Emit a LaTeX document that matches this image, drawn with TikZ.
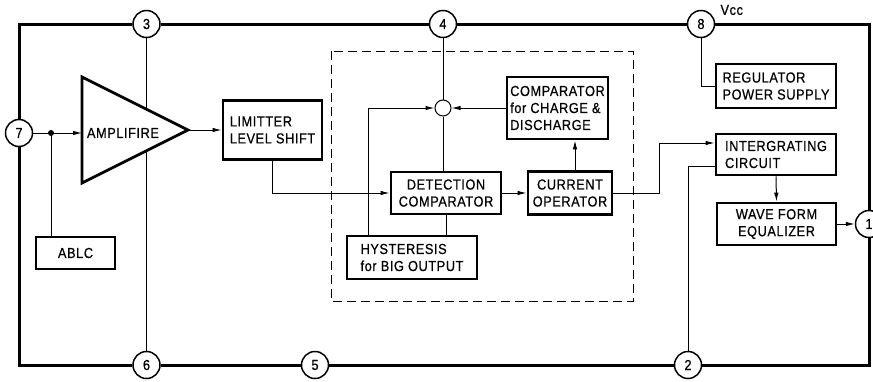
\documentclass[tikz,border=0pt]{standalone}
\usepackage{fontspec}
\setmainfont[LetterSpace=4, FakeStretch=0.88, FakeBold=0.6]{Liberation Sans}
\usepackage{tikz}
\usetikzlibrary{arrows.meta, positioning, calc}
\newcommand{\blockfont}{\fontsize{14.5}{17}\selectfont}

\begin{document}
\begin{tikzpicture}[x=1pt, y=-1pt, >={Latex[length=9pt,width=4.5pt]},
  box/.style={draw, line width=2.8pt, align=left, inner sep=0pt, font=\blockfont},
  pin/.style={draw, circle, line width=1.5pt, fill=white, minimum size=27pt, inner sep=0pt, font=\blockfont},
  wire/.style={line width=1pt},
  frame/.style={line width=3pt}]
  \useasboundingbox (0,0) rectangle (873,381);

  % pins
  \node[pin] (p7) at (19,133) {7};
  \node[pin] (p3) at (146.5,24) {3};
  \node[pin] (p4) at (443,24) {4};
  \node[pin] (p8) at (701,24) {8};
  \node[pin] (p1) at (869,224) {1};
  \node[pin] (p2) at (688,365) {2};
  \node[pin] (p5) at (315,365) {5};
  \node[pin] (p6) at (146.5,365) {6};
  \node[font=\blockfont, anchor=west] (vcc) at (717,10) {Vcc};

  % outer frame, pin to pin
  \draw[frame] (p7.north) |- (p3.west);
  \draw[frame] (p3.east) -- (p4.west);
  \draw[frame] (p4.east) -- (p8.west);
  \draw[frame] (p8.east) -| (p1.north);
  \draw[frame] (p1.south) |- (p2.east);
  \draw[frame] (p2.west) -- (p5.east);
  \draw[frame] (p5.west) -- (p6.east);
  \draw[frame] (p6.west) -| (p7.south);

  % amplifier
  \draw[wire] (p3.south) -- (p6.north);
  \filldraw[fill=white, line width=2.8pt] (82,77) -- (188,130) coordinate (ampO) -- (82,183) -- cycle;
  \node[font=\blockfont] (amplab) at (123,133) {AMPLIFIRE};
  \coordinate (ampIn) at (82,133);
  \fill (51,133) coordinate (dot) circle (3pt);

  % blocks
  \node[box, align=center, minimum width=79pt, minimum height=32pt] (ablc) at (75.5,253) {ABLC};
  \node[box, minimum width=99pt, minimum height=59pt] (lim) at (272.5,130) {LIMITTER\\LEVEL SHIFT};
  \node[box, align=center, minimum width=110pt, minimum height=42pt] (det) at (446,193) {DETECTION\\COMPARATOR};
  \node[box, align=center, minimum width=84pt, minimum height=43pt] (cur) at (570,193) {CURRENT\\OPERATOR};
  \node[box, minimum width=101pt, minimum height=62pt] (cmp) at (557.5,108) {COMPARATOR\\for CHARGE \&\\DISCHARGE};
  \node[box, minimum width=130pt, minimum height=43pt] (hys) at (412,257.5) {HYSTERESIS\\for BIG OUTPUT};
  \node[box, minimum width=120pt, minimum height=44pt] (reg) at (776,86) {REGULATOR\\POWER SUPPLY};
  \node[box, minimum width=120pt, minimum height=41pt] (intg) at (776,154.5) {INTERGRATING\\CIRCUIT};
  \node[box, align=center, minimum width=119pt, minimum height=42pt] (wave) at (776.5,224) {WAVE FORM\\EQUALIZER};
  \node[draw, circle, wire, minimum size=16pt, inner sep=0pt] (sum) at (443,108) {};
  \draw[wire, dash pattern=on 9pt off 5pt] (331,51) rectangle (633,301);

  % connections
  \coordinate (hx) at (368,0);
  \draw[wire, ->] (p7.east) -- (ampIn);
  \draw[wire] (dot) -- (dot |- ablc.north);
  \draw[wire, ->] (ampO) -- (lim.west);
  \draw[wire, ->] (lim.south) |- (det.west);
  \draw[wire] (p4.south) -- (sum.north);
  \draw[wire] (sum.south) -- (sum.south |- det.north);
  \draw[wire] (det.south) -- (det.south |- hys.north);
  \draw[wire, ->] (hys.north -| hx) |- (sum.west);
  \draw[wire, ->] (cmp.west) -- (sum.east);
  \draw[wire, ->] (det.east) -- (cur.west);
  \draw[wire, ->] ([xshift=5pt]cur.north) -- ([xshift=5pt]cur.north |- cmp.south);
  \draw[wire, ->] (cur.east) -- ++(46,0) |- ([yshift=11.5pt]intg.west);
  \draw[wire] (p2.north) |- ([yshift=-11.5pt]intg.west);
  \draw[wire, ->] (intg.south) -- (wave.north);
  \draw[wire, ->] (wave.east) -- (p1.west);
  \draw[wire] (p8.south) |- (reg.west);
\end{tikzpicture}
\end{document}
